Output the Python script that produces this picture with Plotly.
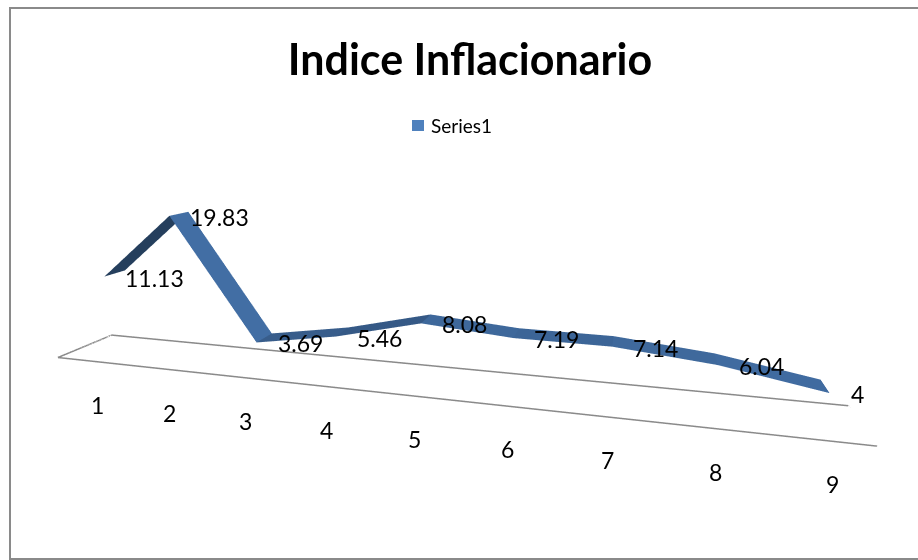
import numpy as np
import plotly.graph_objects as go

# ---- data -------------------------------------------------------------
categories = [1, 2, 3, 4, 5, 6, 7, 8, 9]
values = [11.13, 19.83, 3.69, 5.46, 8.08, 7.19, 7.14, 6.04, 4]
category_labels = ["1", "2", "3", "4", "5", "6", "7", "8", "9"]
value_labels = ["11.13", "19.83", "3.69", "5.46", "8.08", "7.19", "7.14", "6.04", "4"]
series_name = "Series1"
chart_title = "Indice Inflacionario"

# ---- scene geometry (axis units) ---------------------------------------
X_RANGE = [0.42, 9.36]        # floor length along the category axis
Y_RANGE = [0.0, 0.94]         # floor depth
Z_RANGE = [0.0, 25.0]         # value axis
RIBBON_Y = [0.29, 0.65]       # depth occupied by the series ribbon
ASPECT = dict(x=2.0, y=0.2, z=0.497)

# camera: distance from the scene centre, azimuth (from the front,
# towards +x) and elevation; the look-at point is nudged off-centre
CAM_DIST, CAM_AZ, CAM_EL = 1.64, 18.5, 14.0
CAM_CENTER = dict(x=0.108, y=0.0, z=0.015)

W, H = 918, 560
FONT = "Lato"
BASE_RGB = np.array([66, 110, 164])

n = len(categories)
xs = np.array(categories, dtype=float)
zs = np.array(values, dtype=float)

# ribbon vertices: front edge then back edge
vx = np.concatenate([xs, xs])
vy = np.concatenate([np.full(n, RIBBON_Y[0]), np.full(n, RIBBON_Y[1])])
vz = np.concatenate([zs, zs])

# shade each segment from its surface normal (scene-normalised units)
sx = ASPECT["x"] / (X_RANGE[1] - X_RANGE[0])
sz = ASPECT["z"] / (Z_RANGE[1] - Z_RANGE[0])
light = np.array([0.6, 0.0, 0.8])
ii, jj, kk, face_colors = [], [], [], []
for k in range(n - 1):
    slope = (zs[k + 1] - zs[k]) * sz / ((xs[k + 1] - xs[k]) * sx)
    normal = np.array([-slope, 0.0, 1.0]) / np.hypot(slope, 1.0)
    shade = min(1.0, 0.4 + 0.65 * max(0.0, normal @ light))
    r, g, b = (BASE_RGB * shade).astype(int)
    col = f"rgb({r},{g},{b})"
    ii += [k, k]
    jj += [k + 1, n + k + 1]
    kk += [n + k + 1, n + k]
    face_colors += [col, col]

ribbon = go.Mesh3d(
    x=vx, y=vy, z=vz, i=ii, j=jj, k=kk,
    facecolor=face_colors, flatshading=True,
    lighting=dict(ambient=1.0, diffuse=0.0, specular=0.0, roughness=1.0, fresnel=0.0),
    hoverinfo="skip", showscale=False, name=series_name,
)

# floor outline (closing segment repeated so every edge is an inner segment)
fx = [X_RANGE[0], X_RANGE[1], X_RANGE[1], X_RANGE[0], X_RANGE[0], X_RANGE[1]]
fy = [Y_RANGE[0], Y_RANGE[0], Y_RANGE[1], Y_RANGE[1], Y_RANGE[0], Y_RANGE[0]]
floor = go.Scatter3d(
    x=fx, y=fy, z=[0] * len(fx),
    mode="lines", line=dict(color="#8a8a8a", width=3),
    hoverinfo="skip", showlegend=False,
)

fig = go.Figure([floor, ribbon])

scene_annotations = []
for c, v, t in zip(categories, values, value_labels):
    scene_annotations.append(dict(
        x=c, y=RIBBON_Y[0], z=v, text=t, showarrow=False,
        xanchor="left", xshift=19, yshift=-1,
        font=dict(family=FONT, size=23, color="black"),
    ))
for c, t in zip(categories, category_labels):
    scene_annotations.append(dict(
        x=c, y=Y_RANGE[0], z=0, text=t, showarrow=False,
        xanchor="center", yshift=-43,
        font=dict(family=FONT, size=23, color="black"),
    ))

hidden_axis = dict(visible=False, showbackground=False, showgrid=False,
                   zeroline=False, showspikes=False)

az, el = np.radians(CAM_AZ), np.radians(CAM_EL)
eye = dict(x=CAM_DIST * np.cos(el) * np.sin(az),
           y=-CAM_DIST * np.cos(el) * np.cos(az),
           z=CAM_DIST * np.sin(el))

fig.update_layout(
    width=W, height=H,
    margin=dict(l=0, r=0, t=0, b=0),
    paper_bgcolor="white",
    showlegend=False,
    hovermode=False,
    scene=dict(
        domain=dict(x=[0, 1], y=[0, 1]),
        xaxis=dict(range=X_RANGE, **hidden_axis),
        yaxis=dict(range=Y_RANGE, **hidden_axis),
        zaxis=dict(range=Z_RANGE, **hidden_axis),
        aspectmode="manual", aspectratio=ASPECT,
        camera=dict(eye=eye, center=CAM_CENTER, up=dict(x=0, y=0, z=1),
                    projection=dict(type="perspective")),
        bgcolor="rgba(0,0,0,0)",
        annotations=scene_annotations,
    ),
    title=dict(text=chart_title, x=470 / W, xanchor="center",
               y=1 - 60 / H, yanchor="middle",
               font=dict(family=FONT, size=43, color="black", weight="bold")),
    shapes=[
        # outer chart frame
        dict(type="rect", xref="paper", yref="paper",
             x0=10 / W, x1=1.02, y0=1 - 559 / H, y1=1 - 8 / H,
             line=dict(color="#8a8a8a", width=2), fillcolor="rgba(0,0,0,0)"),
        # legend key
        dict(type="rect", xref="paper", yref="paper",
             x0=412 / W, x1=424 / W, y0=1 - 131 / H, y1=1 - 120 / H,
             line=dict(width=0), fillcolor="#4F81BD"),
    ],
    annotations=[
        dict(text=series_name, xref="paper", yref="paper",
             x=429 / W, y=1 - 126 / H, xanchor="left", yanchor="middle",
             showarrow=False, font=dict(family=FONT, size=19, color="black")),
    ],
)

fig.write_html("out.html")
